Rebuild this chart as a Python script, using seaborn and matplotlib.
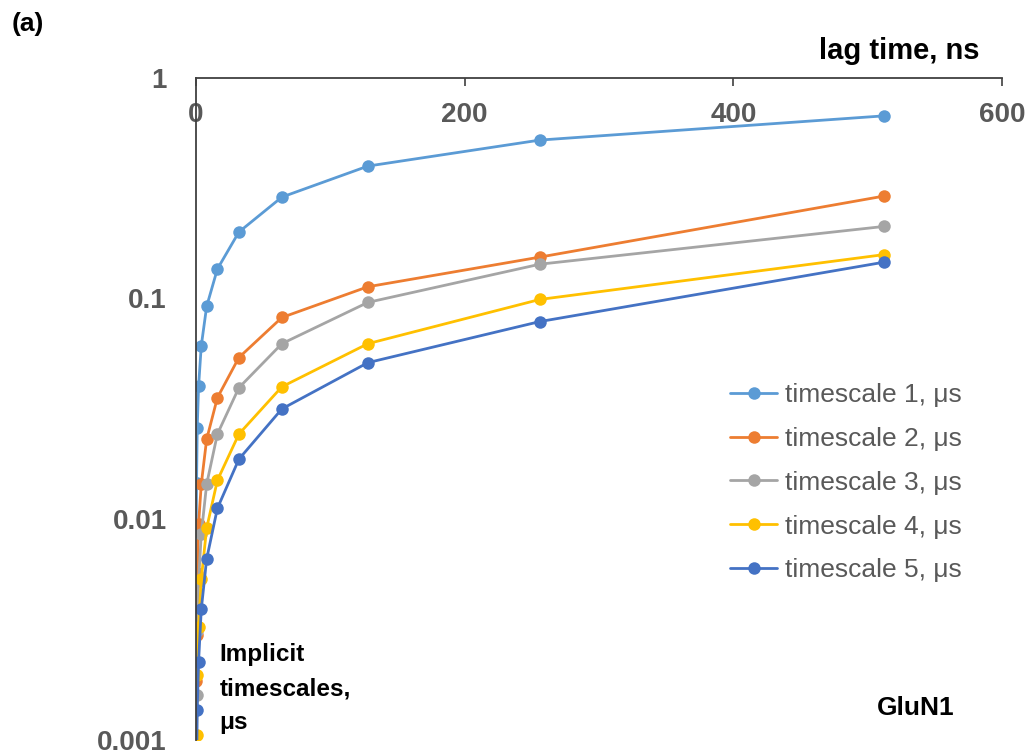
#!/usr/bin/env python3
# -*- coding: utf-8 -*-
"""
Implicit timescales vs lag time (GluN1)
"""

#%% modulos
import pandas as pd
import matplotlib
matplotlib.use("Agg")
import matplotlib.pyplot as plt
import matplotlib.ticker as mticker
import seaborn as sb

#%% dados
lag_ns = [0.25, 0.5, 1, 2, 4, 8, 16, 32, 64, 128, 256, 512]

ts1 = [0.0093, 0.0146, 0.026, 0.040, 0.061, 0.092, 0.136, 0.20, 0.288, 0.398, 0.522, 0.672]
ts2 = [0.00184, 0.0030, 0.0057, 0.0095, 0.0144, 0.023, 0.0355, 0.054, 0.082, 0.113, 0.154, 0.291]
ts3 = [0.0008, 0.0016, 0.0031, 0.00523, 0.00855, 0.0144, 0.0243, 0.0394, 0.0624, 0.096, 0.143, 0.212]
ts4 = [0.0006, 0.00105, 0.00197, 0.00326, 0.00534, 0.0091, 0.0150, 0.0243, 0.0398, 0.0624, 0.099, 0.158]
ts5 = [0.0004, 0.0007, 0.00137, 0.00226, 0.0039, 0.0066, 0.0112, 0.0187, 0.0316, 0.0512, 0.0786, 0.146]

labels = ["timescale 1, μs", "timescale 2, μs", "timescale 3, μs",
          "timescale 4, μs", "timescale 5, μs"]
cores = ["#5B9BD5", "#ED7D31", "#A5A5A5", "#FFC000", "#4472C4"]

xticks = [0, 200, 400, 600]
yticks = [0.001, 0.01, 0.1, 1]

#%% tabela longa
rows = []
for lab, vals in zip(labels, [ts1, ts2, ts3, ts4, ts5]):
    for x, v in zip(lag_ns, vals):
        rows.append({"lag": x, "its": v, "serie": lab})
df = pd.DataFrame(rows)

#%% grafico
sb.set_style("white")
plt.rcParams["font.family"] = ["Liberation Sans", "DejaVu Sans"]

fig = plt.figure(figsize=(10.31, 7.55), dpi=100)
ax = fig.add_axes([0.190, 0.020, 0.782, 0.877])

sb.lineplot(data=df, x="lag", y="its", hue="serie", palette=cores,
            estimator=None, sort=True, marker="o", markersize=9,
            markeredgewidth=0, linewidth=2.0, ax=ax)

ax.set_yscale("log")
ax.set_ylim(0.001, 1)
ax.set_xlim(0, 600)

# eixo x no topo, rotulos por dentro
ax.xaxis.set_ticks_position("top")
ax.set_xticks(xticks)
ax.tick_params(axis="x", direction="in", length=6, width=1.2, pad=-36.5,
               labelsize=20, labelcolor="#595959", color="#404040")
for t in ax.get_xticklabels():
    t.set_fontweight("bold")

ax.set_yticks(yticks)
ax.yaxis.set_major_formatter(mticker.FuncFormatter(lambda v, p: f"{v:g}"))
ax.yaxis.set_minor_locator(mticker.NullLocator())
ax.tick_params(axis="y", direction="in", length=6, width=1.2, pad=21,
               labelsize=20, labelcolor="#595959", color="#404040")
for t in ax.get_yticklabels():
    t.set_fontweight("bold")

for s in ["right", "bottom"]:
    ax.spines[s].set_visible(False)
for s in ["top", "left"]:
    ax.spines[s].set_color("#404040")
    ax.spines[s].set_linewidth(1.3)

ax.set_xlabel("")
ax.set_ylabel("")

leg = ax.legend(frameon=False, loc="upper left",
                bbox_to_anchor=(0.685, 0.524), bbox_transform=fig.transFigure,
                fontsize=19, handlelength=1.8, handletextpad=0.3,
                labelspacing=0.75)
for t in leg.get_texts():
    t.set_color("#595959")

#%% textos
fig.text(0.027, 0.968, "(a)", fontsize=19, fontweight="bold",
         ha="center", va="center", color="black")
fig.text(0.872, 0.932, "lag time, ns", fontsize=21, fontweight="bold",
         ha="center", va="center", color="black")
fig.text(0.213, 0.088, "Implicit\ntimescales,\nμs", fontsize=17.5,
         fontweight="bold", ha="left", va="center", linespacing=1.6,
         color="black")
fig.text(0.888, 0.062, "GluN1", fontsize=19, fontweight="bold",
         ha="center", va="center", color="black")

fig.savefig("out.png", dpi=100)
